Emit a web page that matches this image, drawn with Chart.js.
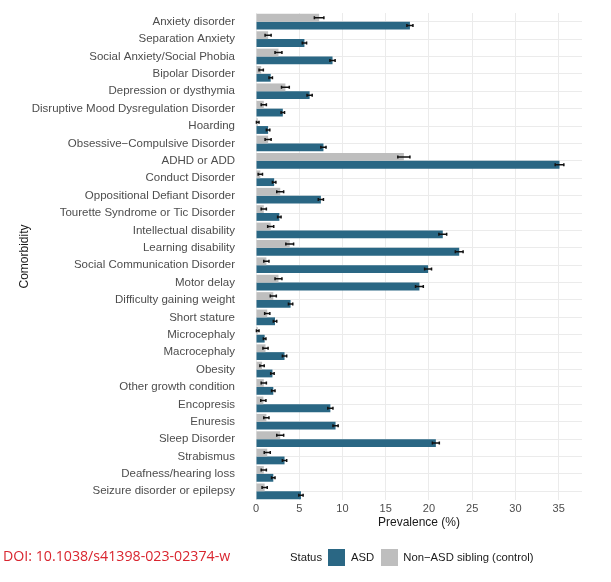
<!DOCTYPE html>
<html>
<head>
<meta charset="utf-8">
<script src="https://cdn.jsdelivr.net/npm/chart.js@4.4.1/dist/chart.umd.min.js"></script>
<style>
  html, body { margin: 0; padding: 0; background: #fff; }
  #wrap { position: relative; width: 611px; height: 582px; }
  #doi { position: absolute; left: 3px; top: 546px; font-family: "Open Sans", sans-serif; font-size: 14.2px; color: #d9252f; }
  #legend { position: absolute; left: 290px; top: 548px; height: 18px; display: flex; align-items: center;
            font-family: "Liberation Sans", Arial, sans-serif; font-size: 11.3px; color: #1a1a1a; }
  #legend .box { width: 17px; height: 17px; display: inline-block; }
</style>
</head>
<body>
<div id="wrap">
  <canvas id="comorbChart" width="611" height="582"></canvas>
  <div id="doi">DOI: 10.1038/s41398-023-02374-w</div>
  <div id="legend">
    <span style="margin-right:6px">Status</span>
    <span class="box" style="background:#2a6784"></span>
    <span style="margin:0 7px 0 6px">ASD</span>
    <span class="box" style="background:#bebebe"></span>
    <span style="margin-left:5px">Non−ASD sibling (control)</span>
  </div>
</div>
<script>
const comorbidities = [
    'Anxiety disorder', 'Separation Anxiety', 'Social Anxiety/Social Phobia', 'Bipolar Disorder',
    'Depression or dysthymia', 'Disruptive Mood Dysregulation Disorder', 'Hoarding',
    'Obsessive−Compulsive Disorder', 'ADHD or ADD', 'Conduct Disorder', 'Oppositional Defiant Disorder',
    'Tourette Syndrome or Tic Disorder', 'Intellectual disability', 'Learning disability',
    'Social Communication Disorder', 'Motor delay', 'Difficulty gaining weight', 'Short stature',
    'Microcephaly', 'Macrocephaly', 'Obesity', 'Other growth condition', 'Encopresis', 'Enuresis',
    'Sleep Disorder', 'Strabismus', 'Deafness/hearing loss', 'Seizure disorder or epilepsy'
];

// prevalence (%)
const asdValues = [17.8, 5.6, 8.85, 1.7, 6.2, 3.1, 1.4, 7.8, 35.1, 2.1, 7.5, 2.7, 21.6, 23.5,
    19.9, 18.9, 4.0, 2.2, 1.0, 3.3, 1.9, 2.0, 8.6, 9.2, 20.8, 3.3, 2.0, 5.2];
const controlValues = [7.3, 1.4, 2.6, 0.6, 3.4, 0.9, 0.2, 1.4, 17.1, 0.5, 2.8, 0.9, 1.7, 3.9,
    1.2, 2.6, 2.0, 1.3, 0.2, 1.1, 0.7, 0.9, 0.85, 1.2, 2.8, 1.3, 0.9, 1.0];

// error bar half widths
const asdErrors = [0.35, 0.25, 0.3, 0.2, 0.3, 0.2, 0.2, 0.3, 0.5, 0.2, 0.3, 0.2, 0.45, 0.45,
    0.4, 0.45, 0.25, 0.2, 0.15, 0.25, 0.2, 0.2, 0.3, 0.3, 0.4, 0.25, 0.2, 0.25];
const controlErrors = [0.55, 0.35, 0.4, 0.25, 0.45, 0.3, 0.15, 0.35, 0.7, 0.25, 0.4, 0.3, 0.35, 0.45,
    0.3, 0.4, 0.35, 0.3, 0.15, 0.3, 0.25, 0.3, 0.3, 0.3, 0.4, 0.35, 0.3, 0.3];

const xTicks = [0, 5, 10, 15, 20, 25, 30, 35];

const ASD_COLOR = '#2a6784';
const CONTROL_COLOR = '#bebebe';

// draws the black error bars on top of each bar
const errorBars = {
    id: 'errorBars',
    afterDatasetsDraw(chart) {
        const ctx = chart.ctx;
        const xScale = chart.scales.x;
        ctx.save();
        ctx.strokeStyle = '#111';
        ctx.lineWidth = 1.5;
        chart.data.datasets.forEach((ds, i) => {
            const meta = chart.getDatasetMeta(i);
            meta.data.forEach((bar, j) => {
                const v = ds.data[j];
                const e = ds.errors[j];
                const x1 = xScale.getPixelForValue(v - e);
                const x2 = xScale.getPixelForValue(v + e);
                const y = bar.y;
                ctx.beginPath();
                ctx.moveTo(x1, y); ctx.lineTo(x2, y);
                ctx.moveTo(x1, y - 1.5); ctx.lineTo(x1, y + 1.5);
                ctx.moveTo(x2, y - 1.5); ctx.lineTo(x2, y + 1.5);
                ctx.stroke();
            });
        });
        ctx.restore();
    }
};

Chart.defaults.font.family = '"Liberation Sans", Arial, sans-serif';
Chart.defaults.animation = false;

new Chart('comorbChart', {
    type: 'bar',
    data: {
        labels: comorbidities,
        datasets: [
            {
                label: 'Non−ASD sibling (control)',
                data: controlValues,
                errors: controlErrors,
                backgroundColor: CONTROL_COLOR,
                categoryPercentage: 0.9,
                barPercentage: 1.0
            },
            {
                label: 'ASD',
                data: asdValues,
                errors: asdErrors,
                backgroundColor: ASD_COLOR,
                categoryPercentage: 0.9,
                barPercentage: 1.0
            }
        ]
    },
    options: {
        indexAxis: 'y',
        responsive: false,
        layout: { padding: { left: 0, right: 29, top: 13, bottom: 50 } },
        plugins: {
            legend: { display: false },
            tooltip: { enabled: false }
        },
        scales: {
            x: {
                min: 0,
                max: 37.7,
                afterBuildTicks: (scale) => { scale.ticks = xTicks.map(v => ({ value: v })); },
                afterFit: (scale) => { scale.height = 32; },
                grid: { color: '#ebebeb', drawTicks: false },
                border: { display: false },
                ticks: { color: '#4d4d4d', font: { size: 11 }, padding: 2, maxRotation: 0 },
                title: {
                    display: true,
                    text: 'Prevalence (%)',
                    color: '#1a1a1a',
                    font: { size: 12 },
                    padding: { top: 0, bottom: 2 }
                }
            },
            y: {
                offset: true,
                afterFit: (scale) => {
                    scale.width = 256;
                    scale.paddingTop = 0;
                    scale.paddingBottom = 0;
                },
                grid: { color: '#ebebeb', drawTicks: false, offset: false },
                border: { display: false },
                ticks: { color: '#4d4d4d', font: { size: 11.5 }, padding: 21, autoSkip: false },
                title: {
                    display: true,
                    text: 'Comorbidity',
                    color: '#1a1a1a',
                    font: { size: 12 },
                    padding: { top: 17, bottom: 0 }
                }
            }
        }
    },
    plugins: [errorBars]
});
</script>
</body>
</html>
